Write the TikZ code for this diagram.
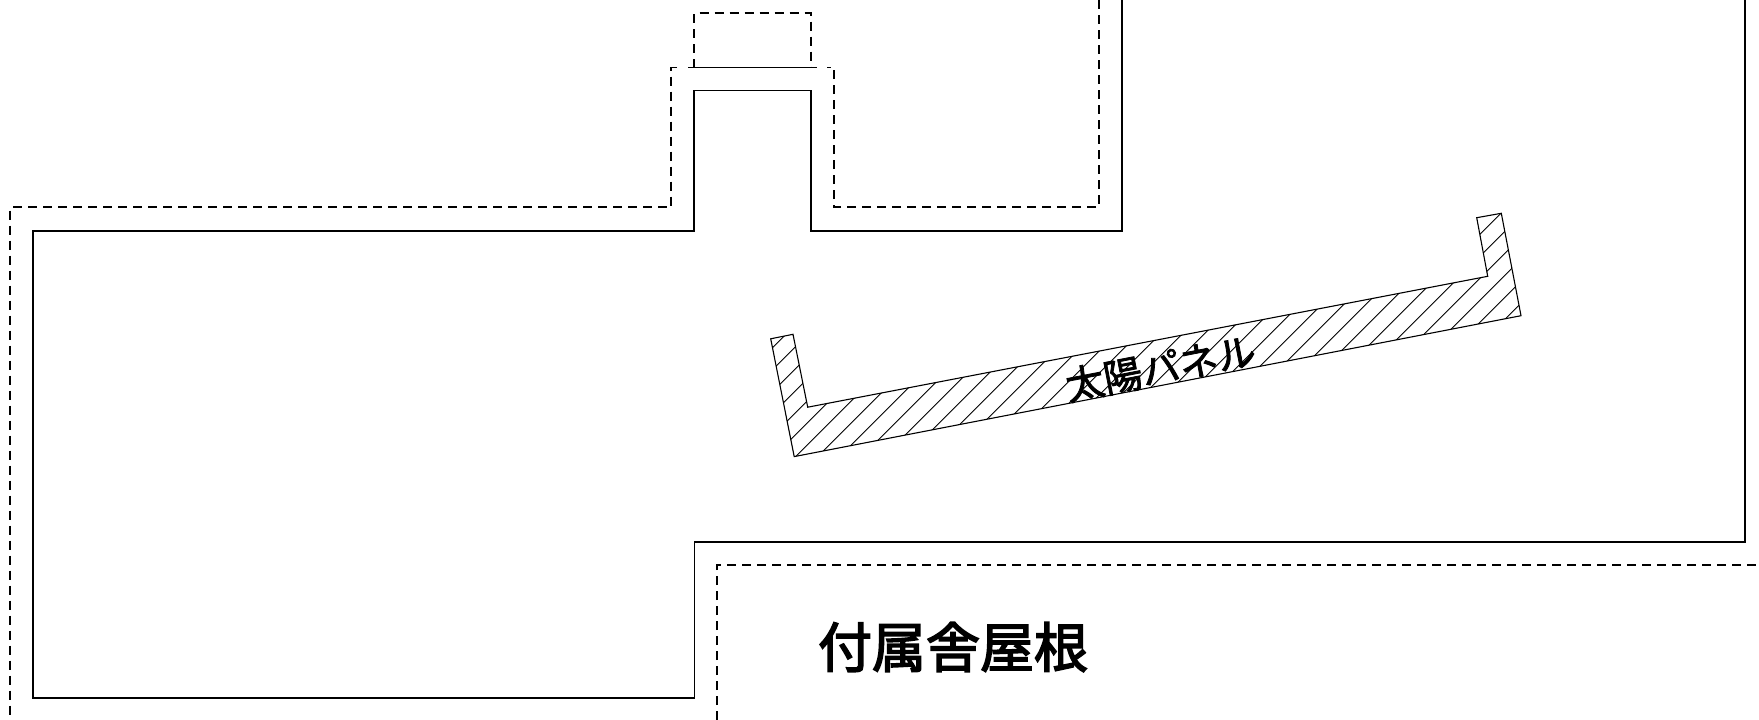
\documentclass[tikz,border=0pt]{standalone}
\usepackage{fontspec}
\newfontfamily\cjkpanel[FakeBold=2.1]{Noto Sans CJK JP}
\newfontfamily\cjkroof[FakeBold=2.9]{Noto Sans CJK JP}
\tikzset{
  wall/.style={draw=black,line width=1.05pt,line join=miter},
  hidden/.style={draw=black,line width=1.1pt,dash pattern=on 9pt off 6pt},
  hatchline/.style={draw=black,line width=0.95pt},
  panel/.style={draw=black,line width=1.1pt,line join=miter},
}
\begin{document}
\begin{tikzpicture}[x=1pt,y=-1pt]
\useasboundingbox (0,0) rectangle (1759,720);
% solid outline
\draw[wall] (1122,0) -- (1122,231) -- (811,231) -- (811,90.5) -- (694,90.5) -- (694,231) -- (33,231) -- (33,698) -- (694.5,698) -- (694.5,542) -- (1745,542) -- (1745,0);
% dashed outlines
\draw[hidden] (1099,0) -- (1099,207) -- (834,207) -- (834,67.5) -- (827,67.5);
\draw[hidden] (677,67.5) -- (671,67.5) -- (671,207) -- (10,207) -- (10,720);
\draw[hidden] (694,67.5) -- (694,13) -- (811,13) -- (811,67.5);
\draw[hidden] (717,720) -- (717,565) -- (1759,565);
\draw[wall,line width=1.2pt] (688,67.5) -- (817,67.5);
% solar panel
\def\panelpath{(770.7,338.8) -- (793,334.3) -- (807.7,407.2) -- (1487.7,276.3) -- (1476.7,217.7) -- (1501.3,213.3) -- (1521,315.7) -- (794.2,456.6) -- cycle}
\begin{scope}
\clip \panelpath;
\foreach \k in {-29,...,6}{
  \draw[hatchline] ({1714.3+22*\k-200},200) -- ({1714.3+22*\k-500},500);
}
\end{scope}
\draw[panel] \panelpath;
\node[rotate=11,inner sep=0pt,font=\cjkpanel\fontsize{38.5pt}{38.5pt}\selectfont] (paneltext) at (1160.5,368) {太陽パネル};
\node[inner sep=0pt,font=\cjkroof\fontsize{54pt}{54pt}\selectfont] (rooftext) at (953,647) {付属舎屋根};
\end{tikzpicture}
\end{document}
